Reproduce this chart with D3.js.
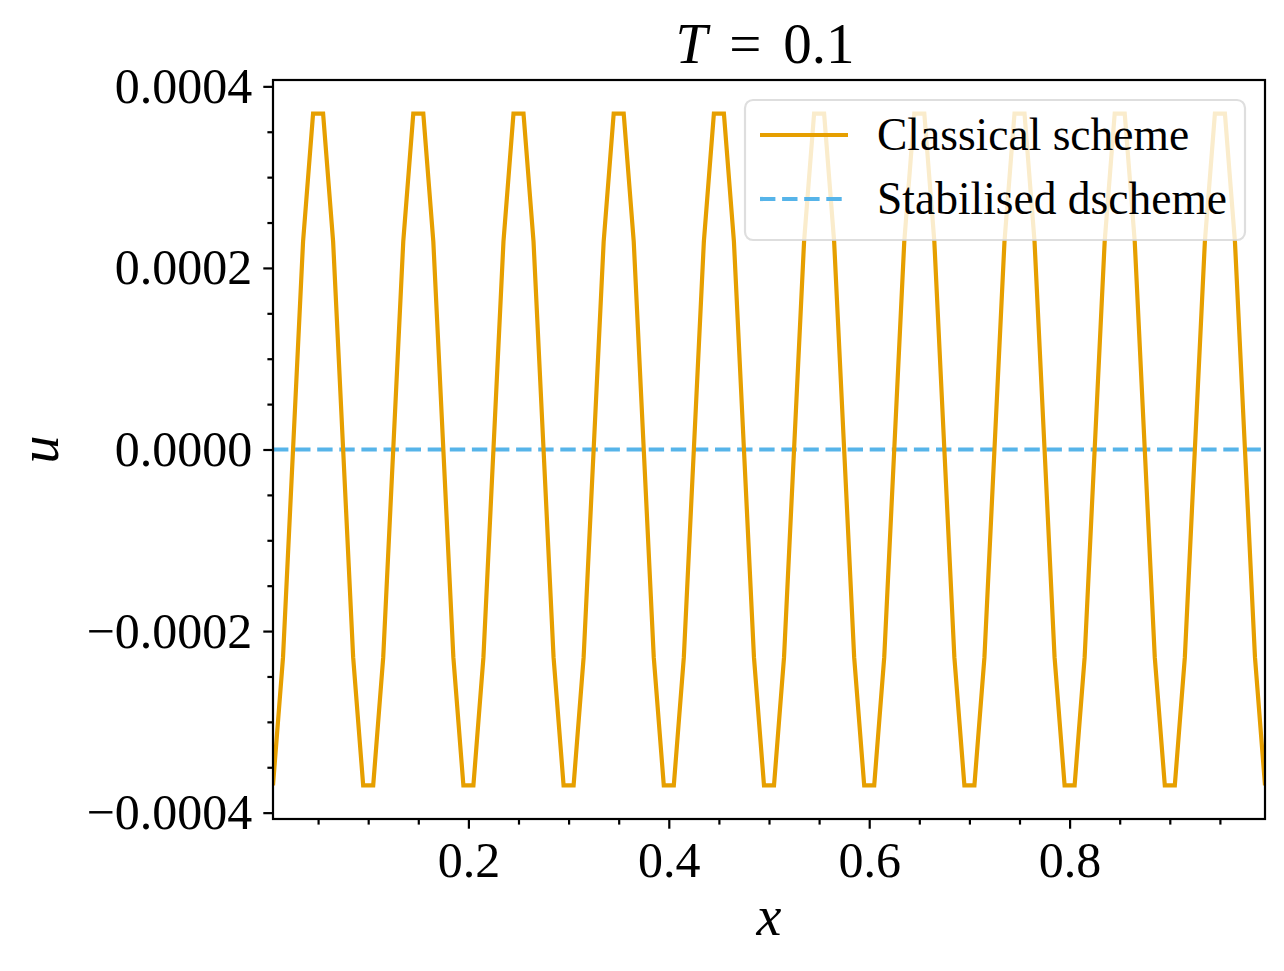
<!DOCTYPE html>
<html>
<head>
<meta charset="utf-8">
<script src="https://cdn.jsdelivr.net/npm/d3@7"></script>
<style>
  body { margin: 0; background: #fff; }
  svg { display: block; font-family: "Liberation Serif", serif; }
</style>
</head>
<body>
<script>
// grid points (cell centres, dx = 0.01)
const xGrid = [
  0.005, 0.015, 0.025, 0.035, 0.045, 0.055, 0.065, 0.075, 0.085, 0.095,
  0.105, 0.115, 0.125, 0.135, 0.145, 0.155, 0.165, 0.175, 0.185, 0.195,
  0.205, 0.215, 0.225, 0.235, 0.245, 0.255, 0.265, 0.275, 0.285, 0.295,
  0.305, 0.315, 0.325, 0.335, 0.345, 0.355, 0.365, 0.375, 0.385, 0.395,
  0.405, 0.415, 0.425, 0.435, 0.445, 0.455, 0.465, 0.475, 0.485, 0.495,
  0.505, 0.515, 0.525, 0.535, 0.545, 0.555, 0.565, 0.575, 0.585, 0.595,
  0.605, 0.615, 0.625, 0.635, 0.645, 0.655, 0.665, 0.675, 0.685, 0.695,
  0.705, 0.715, 0.725, 0.735, 0.745, 0.755, 0.765, 0.775, 0.785, 0.795,
  0.805, 0.815, 0.825, 0.835, 0.845, 0.855, 0.865, 0.875, 0.885, 0.895,
  0.905, 0.915, 0.925, 0.935, 0.945, 0.955, 0.965, 0.975, 0.985, 0.995
];

const classicalU = [
  -0.00037, -0.000229, 0, 0.000229, 0.00037, 0.00037, 0.000229, 0, -0.000229, -0.00037,
  -0.00037, -0.000229, 0, 0.000229, 0.00037, 0.00037, 0.000229, 0, -0.000229, -0.00037,
  -0.00037, -0.000229, 0, 0.000229, 0.00037, 0.00037, 0.000229, 0, -0.000229, -0.00037,
  -0.00037, -0.000229, 0, 0.000229, 0.00037, 0.00037, 0.000229, 0, -0.000229, -0.00037,
  -0.00037, -0.000229, 0, 0.000229, 0.00037, 0.00037, 0.000229, 0, -0.000229, -0.00037,
  -0.00037, -0.000229, 0, 0.000229, 0.00037, 0.00037, 0.000229, 0, -0.000229, -0.00037,
  -0.00037, -0.000229, 0, 0.000229, 0.00037, 0.00037, 0.000229, 0, -0.000229, -0.00037,
  -0.00037, -0.000229, 0, 0.000229, 0.00037, 0.00037, 0.000229, 0, -0.000229, -0.00037,
  -0.00037, -0.000229, 0, 0.000229, 0.00037, 0.00037, 0.000229, 0, -0.000229, -0.00037,
  -0.00037, -0.000229, 0, 0.000229, 0.00037, 0.00037, 0.000229, 0, -0.000229, -0.00037
];

const stabilisedU = [
  0, 0, 0, 0, 0, 0, 0, 0, 0, 0,
  0, 0, 0, 0, 0, 0, 0, 0, 0, 0,
  0, 0, 0, 0, 0, 0, 0, 0, 0, 0,
  0, 0, 0, 0, 0, 0, 0, 0, 0, 0,
  0, 0, 0, 0, 0, 0, 0, 0, 0, 0,
  0, 0, 0, 0, 0, 0, 0, 0, 0, 0,
  0, 0, 0, 0, 0, 0, 0, 0, 0, 0,
  0, 0, 0, 0, 0, 0, 0, 0, 0, 0,
  0, 0, 0, 0, 0, 0, 0, 0, 0, 0,
  0, 0, 0, 0, 0, 0, 0, 0, 0, 0
];

const seriesNames = ["Classical scheme", "Stabilised dscheme"];
const xMajorTicks = [0.2, 0.4, 0.6, 0.8];
const xMinorTicks = [0.05, 0.1, 0.15, 0.25, 0.3, 0.35, 0.45, 0.5, 0.55, 0.65, 0.7, 0.75, 0.85, 0.9, 0.95];
const yMajorTicks = [-0.0004, -0.0002, 0, 0.0002, 0.0004];
const yMinorTicks = [-0.00035, -0.0003, -0.00025, -0.00015, -0.0001, -0.00005,
                     0.00005, 0.0001, 0.00015, 0.00025, 0.0003, 0.00035];

const width = 1284, height = 971;
const margin = {left: 273, right: 19, top: 80, bottom: 152};
const orange = "#E69F00", blue = "#56B4E9";

const svg = d3.select("body").append("svg")
    .attr("width", width)
    .attr("height", height);

const x = d3.scaleLinear().domain([0.005, 0.995]).range([margin.left, width - margin.right]);
const y = d3.scaleLinear().domain([-0.000407, 0.000407]).range([height - margin.bottom, margin.top]);

const fmtY = v => (v < 0 ? "\u2212" : "") + Math.abs(v).toFixed(4);

svg.append("clipPath").attr("id", "plot")
  .append("rect")
    .attr("x", margin.left).attr("y", margin.top)
    .attr("width", x.range()[1] - x.range()[0])
    .attr("height", y.range()[0] - y.range()[1]);

// data lines
const line = d3.line().x(d => x(d[0])).y(d => y(d[1]));

svg.append("path")
    .attr("clip-path", "url(#plot)")
    .attr("fill", "none")
    .attr("stroke", blue)
    .attr("stroke-width", 4.2)
    .attr("stroke-dasharray", "15.4,6.7")
    .attr("d", line(xGrid.map((v, i) => [v, stabilisedU[i]])));

svg.append("path")
    .attr("clip-path", "url(#plot)")
    .attr("fill", "none")
    .attr("stroke", orange)
    .attr("stroke-width", 4.2)
    .attr("d", line(xGrid.map((v, i) => [v, classicalU[i]])));

// axes
svg.append("g")
    .attr("transform", `translate(0,${height - margin.bottom})`)
    .call(d3.axisBottom(x).tickValues(xMajorTicks).tickSize(9.7).tickPadding(13).tickFormat(d3.format(".1f")));
svg.append("g")
    .attr("transform", `translate(0,${height - margin.bottom})`)
    .call(d3.axisBottom(x).tickValues(xMinorTicks).tickSize(5.6).tickFormat(""));

svg.append("g")
    .attr("transform", `translate(${margin.left},0)`)
    .call(d3.axisLeft(y).tickValues(yMajorTicks).tickSize(9.7).tickPadding(11).tickFormat(fmtY));
svg.append("g")
    .attr("transform", `translate(${margin.left},0)`)
    .call(d3.axisLeft(y).tickValues(yMinorTicks).tickSize(5.6).tickFormat(""));

svg.selectAll(".domain").remove();
svg.selectAll(".tick line").attr("stroke", "#000").attr("stroke-width", 2.2);
svg.selectAll(".tick text")
    .attr("fill", "#000")
    .style("font-family", "'Liberation Serif', serif")
    .style("font-size", "50px");

// frame
svg.append("rect")
    .attr("x", margin.left).attr("y", margin.top)
    .attr("width", x.range()[1] - x.range()[0])
    .attr("height", y.range()[0] - y.range()[1])
    .attr("fill", "none")
    .attr("stroke", "#000")
    .attr("stroke-width", 2.2);

// title and labels
const cx = (x.range()[0] + x.range()[1]) / 2;
const title = svg.append("text")
    .attr("x", cx - 4).attr("y", 63)
    .attr("text-anchor", "middle")
    .style("font-size", "57px");
title.append("tspan").style("font-style", "italic").text("T");
title.append("tspan").attr("dx", 22).text("=");
title.append("tspan").attr("dx", 22).text("0.1");

svg.append("text")
    .attr("x", cx).attr("y", 935)
    .attr("text-anchor", "middle")
    .style("font-size", "56px")
    .style("font-style", "italic")
    .text("x");

svg.append("text")
    .attr("transform", `translate(58,${y(0)}) rotate(-90)`)
    .attr("text-anchor", "middle")
    .style("font-size", "56px")
    .style("font-style", "italic")
    .text("u");

// legend
const legend = svg.append("g").attr("transform", "translate(745,100)");
legend.append("rect")
    .attr("width", 500).attr("height", 140)
    .attr("rx", 8)
    .attr("fill", "#fff").attr("fill-opacity", 0.8)
    .attr("stroke", "#d6d6d6").attr("stroke-opacity", 0.8)
    .attr("stroke-width", 2.2);

const rows = legend.selectAll("g.row")
  .data(seriesNames)
  .join("g")
    .attr("class", "row")
    .attr("transform", (d, i) => `translate(0,${35 + i * 64})`);

rows.append("line")
    .attr("x1", 15).attr("x2", 103)
    .attr("stroke", (d, i) => i === 0 ? orange : blue)
    .attr("stroke-width", 4.2)
    .attr("stroke-dasharray", (d, i) => i === 0 ? null : "15.4,6.7");

rows.append("text")
    .attr("x", 132)
    .attr("dy", "0.34em")
    .style("font-size", "45.5px")
    .text(d => d);
</script>
</body>
</html>
